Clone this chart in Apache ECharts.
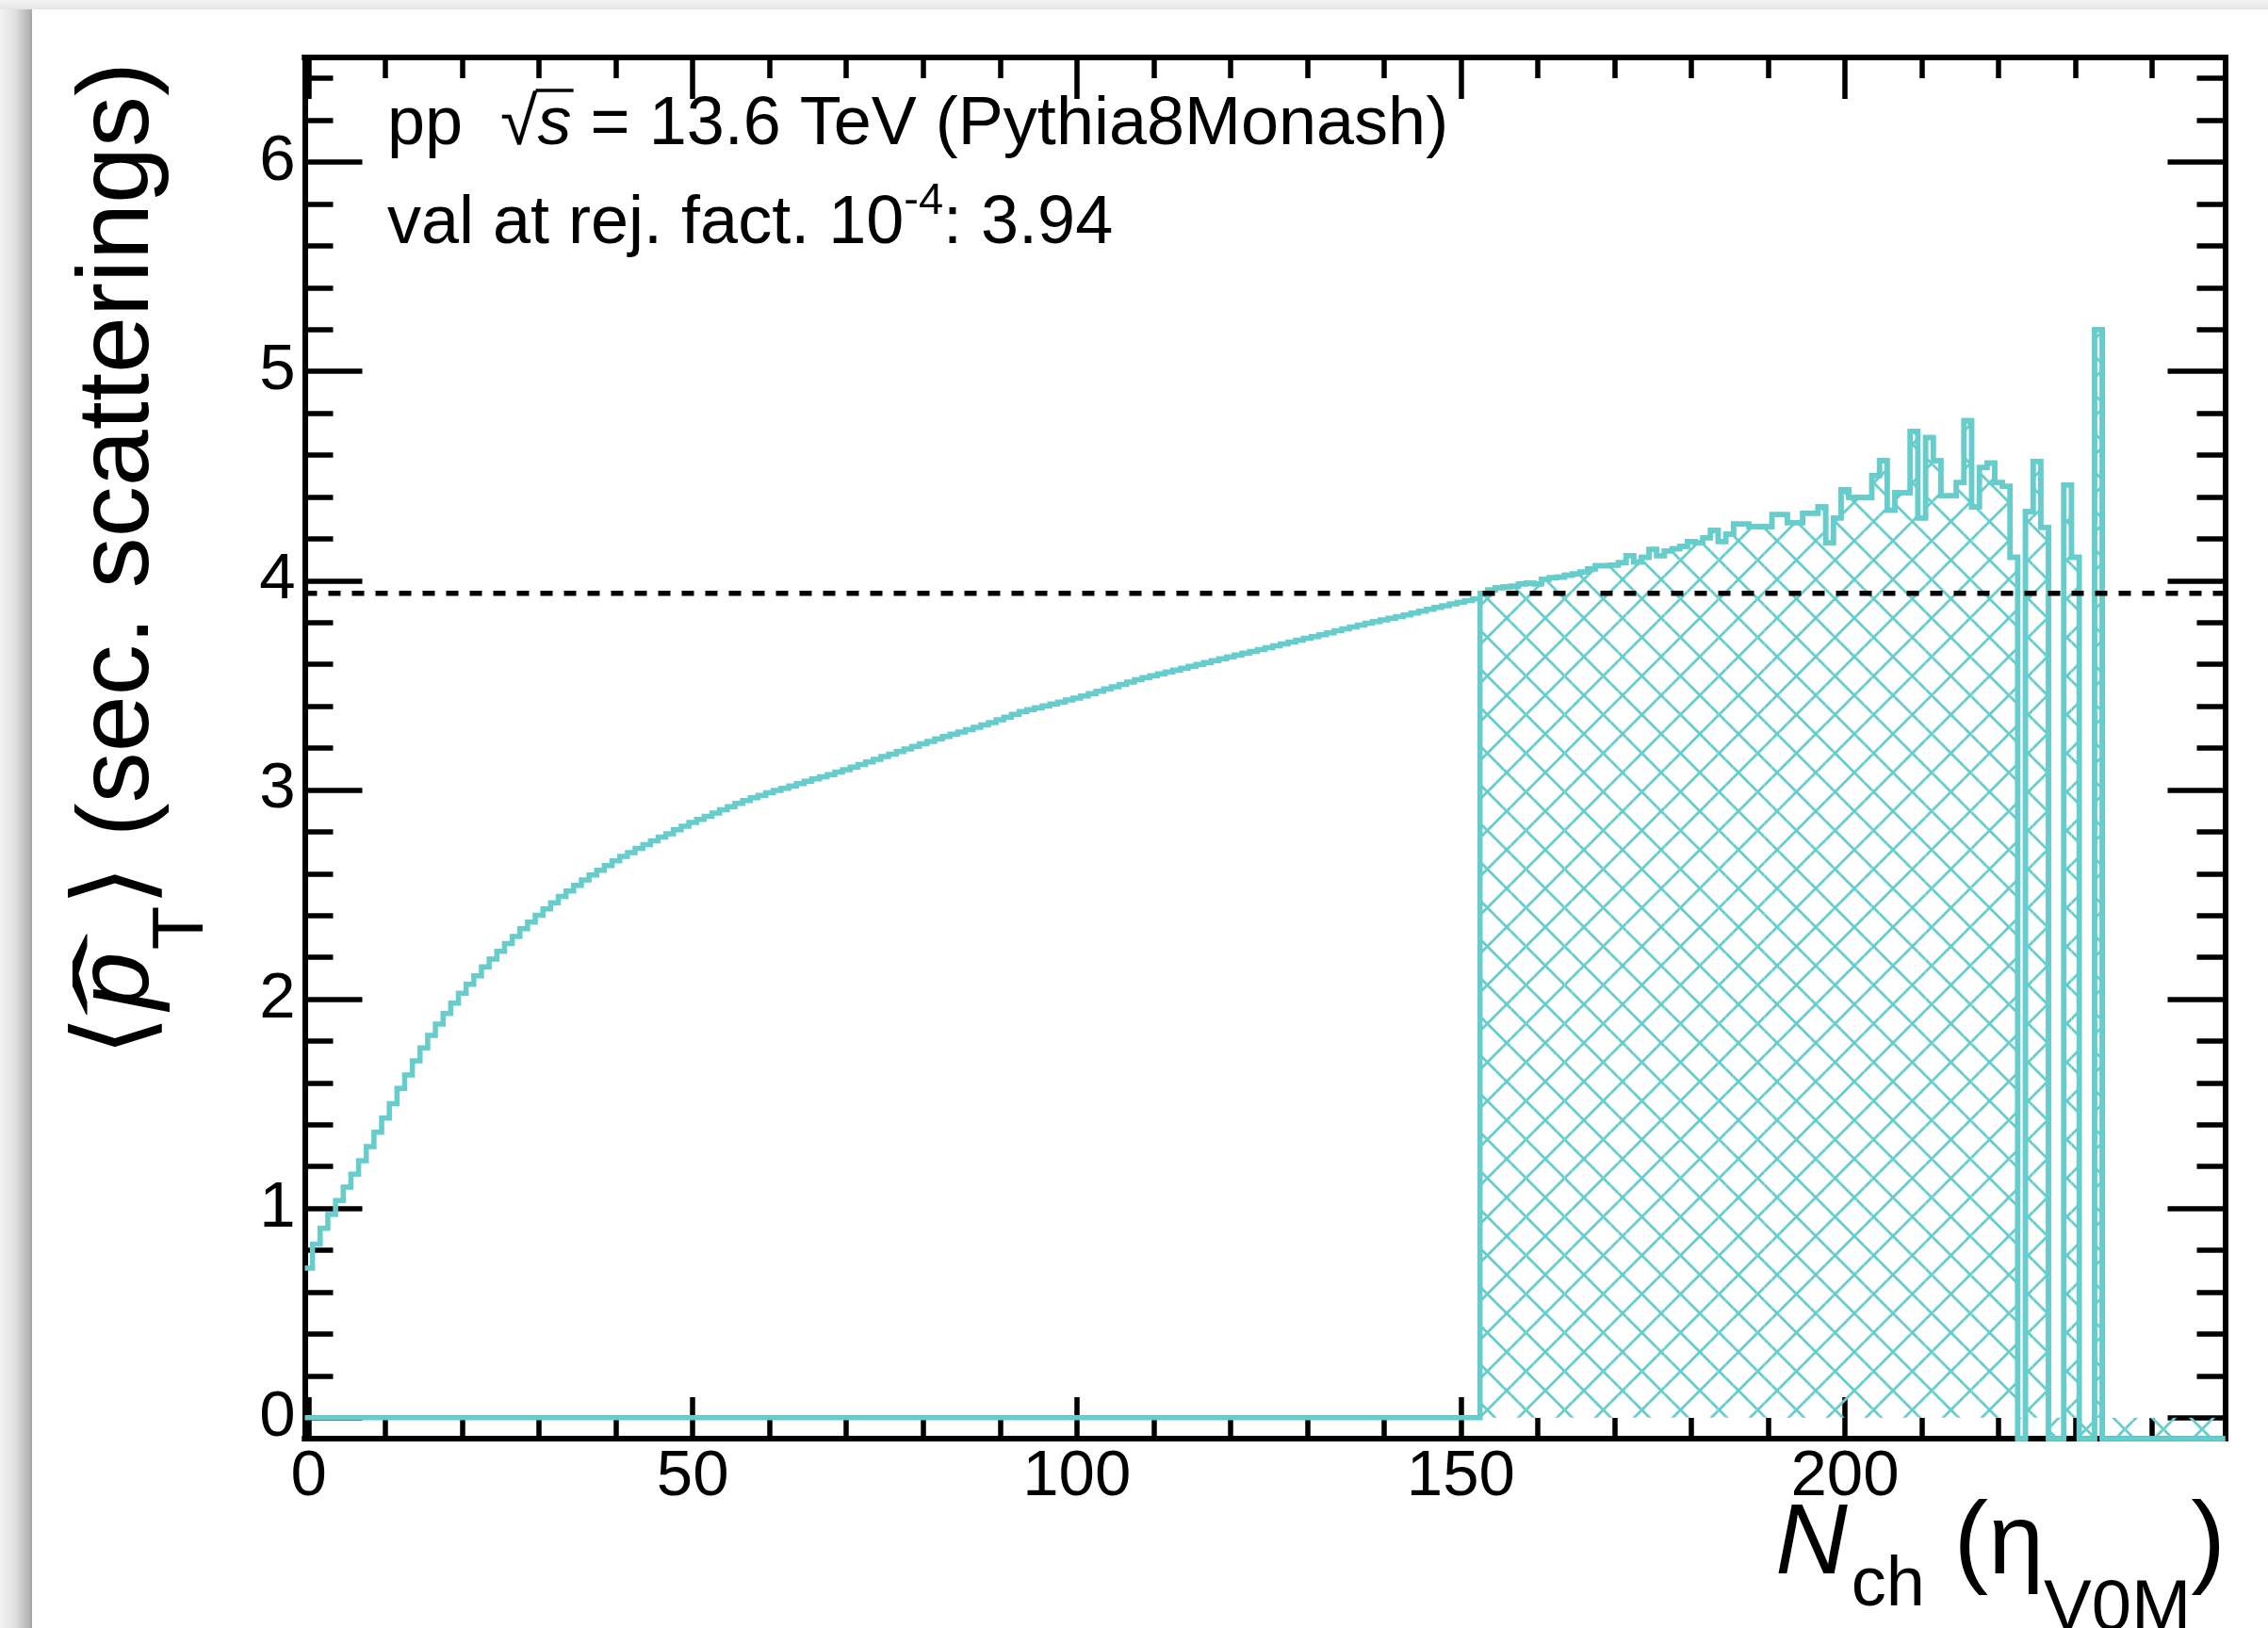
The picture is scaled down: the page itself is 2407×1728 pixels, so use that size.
<!DOCTYPE html>
<html>
<head>
<meta charset="utf-8">
<script src="https://cdn.jsdelivr.net/npm/echarts@6/dist/echarts.min.js"></script>
<style>
  html, body { margin: 0; padding: 0; width: 2407px; height: 1728px; overflow: hidden; background: #fff; }
  #shadeLeft { position: absolute; left: 0; top: 0; width: 34px; height: 1728px;
    background: linear-gradient(to right, #f3f3f3 0%, #dedede 50%, #b4b4b4 90%, #a4a4a4 100%); }
  #shadeTop { position: absolute; left: 0; top: 0; width: 2407px; height: 10px;
    background: linear-gradient(to bottom, #f4f4f4, #e4e4e4); }
  #chart { position: absolute; left: 0; top: 0; width: 2407px; height: 1728px; }
</style>
</head>
<body>
<div id="shadeLeft"></div>
<div id="shadeTop"></div>
<div id="chart"></div>
<script>
// <p_T-hat> of secondary scatterings vs. charged multiplicity in the V0M acceptance.
// One value per unit-wide N_ch bin (bin i covers i-0.5 … i+0.5); null = empty bin.
const meanPtHat = [
  0.715, 0.830, 0.905, 0.972, 1.038, 1.102, 1.164, 1.228, 1.296, 1.364,   //   0
  1.432, 1.500, 1.574, 1.638, 1.705, 1.767, 1.827, 1.881, 1.932, 1.981,   //  10
  2.028, 2.071, 2.112, 2.154, 2.191, 2.229, 2.266, 2.300, 2.337, 2.368,   //  20
  2.401, 2.431, 2.461, 2.491, 2.517, 2.544, 2.570, 2.593, 2.616, 2.638,   //  30
  2.661, 2.682, 2.700, 2.720, 2.738, 2.756, 2.775, 2.790, 2.810, 2.826,   //  40
  2.844, 2.859, 2.874, 2.889, 2.905, 2.920, 2.935, 2.949, 2.962, 2.974,   //  50
  2.986, 2.997, 3.008, 3.019, 3.030, 3.041, 3.052, 3.063, 3.073, 3.085,   //  60
  3.097, 3.109, 3.121, 3.134, 3.146, 3.159, 3.171, 3.183, 3.195, 3.208,   //  70
  3.220, 3.232, 3.244, 3.255, 3.266, 3.277, 3.288, 3.299, 3.310, 3.322,   //  80
  3.335, 3.348, 3.361, 3.374, 3.384, 3.393, 3.402, 3.411, 3.420, 3.430,   //  90
  3.439, 3.449, 3.460, 3.471, 3.482, 3.493, 3.504, 3.515, 3.526, 3.537,   // 100
  3.546, 3.555, 3.564, 3.573, 3.582, 3.591, 3.600, 3.609, 3.618, 3.627,   // 110
  3.636, 3.645, 3.654, 3.662, 3.671, 3.680, 3.689, 3.697, 3.706, 3.715,   // 120
  3.724, 3.732, 3.741, 3.750, 3.760, 3.770, 3.779, 3.788, 3.796, 3.804,   // 130
  3.812, 3.820, 3.828, 3.836, 3.845, 3.854, 3.863, 3.872, 3.880, 3.889,   // 140
  3.897, 3.905, 3.913, 3.940, 3.955, 3.967, 3.970, 3.973, 3.985, 3.988,   // 150
  3.985, 4.007, 4.014, 4.017, 4.026, 4.032, 4.041, 4.056, 4.071, 4.071,   // 160
  4.074, 4.086, 4.119, 4.089, 4.112, 4.149, 4.119, 4.142, 4.152, 4.164,   // 170
  4.187, 4.180, 4.205, 4.240, 4.187, 4.222, 4.270, 4.270, 4.258, 4.258,   // 180
  4.258, 4.315, 4.315, 4.277, 4.277, 4.322, 4.322, 4.352, 4.180, 4.300,   // 190
  4.435, 4.397, 4.397, 4.397, 4.502, 4.573, 4.337, 4.420, 4.420, 4.713,   // 200
  4.300, 4.683, 4.573, 4.405, 4.405, 4.468, 4.765, 4.352, 4.540, 4.562,   // 210
  4.468, 4.450, 4.112, null,  4.330, 4.570, 4.255, null,  null,  4.457,   // 220
  4.112, null,  null,  5.200, null,  null,  null,  null,  null,  null,    // 230
  null,  null,  null,  null,  null,  null,  null,  null,  null,  null     // 240
];

// Bins at or above this index pass the 1e-4 rejection cut (hatched).
const cutBin = 153;
const cutValue = 3.94;

// Axis ranges and ticks
const xRange = [-0.5, 249.5];
const yRange = [-0.1, 6.5];
const xMajorTicks = [0, 50, 100, 150, 200];
const xMinorTicks = [10, 20, 30, 40, 60, 70, 80, 90, 110, 120, 130, 140, 160, 170, 180, 190, 210, 220, 230, 240];
const yMajorTicks = [0, 1, 2, 3, 4, 5, 6];
const yMinorTicks = [0.2, 0.4, 0.6, 0.8, 1.2, 1.4, 1.6, 1.8, 2.2, 2.4, 2.6, 2.8, 3.2, 3.4, 3.6, 3.8,
                     4.2, 4.4, 4.6, 4.8, 5.2, 5.4, 5.6, 5.8, 6.2, 6.4];

const LINE_COLOR = '#66cccc';
const SANS = '"Liberation Sans", Arial, Helvetica, sans-serif';

const binCentres = meanPtHat.map((_, i) => i);

// Cross-hatch tile used to fill the bins above the cut
function makeHatchTile() {
  const s = 41;
  const c = document.createElement('canvas');
  c.width = s; c.height = s;
  const g = c.getContext('2d');
  g.strokeStyle = LINE_COLOR;
  g.lineWidth = 2.8;
  for (const o of [-s, 0, s]) {
    g.beginPath(); g.moveTo(o, 0); g.lineTo(o + s, s); g.stroke();
    g.beginPath(); g.moveTo(o + s, 0); g.lineTo(o, s); g.stroke();
  }
  return c;
}
const hatchFill = { image: makeHatchTile(), repeat: 'repeat' };

// Values as drawn: empty bins sit on the frame floor
const plainValue = b => (meanPtHat[b] == null ? yRange[0] : meanPtHat[b]);
const cutValueOf = b => (b < cutBin ? 0 : plainValue(b));

function stepPoints(api, valueOf) {
  const pts = [];
  for (let b = 0; b < meanPtHat.length; b++) {
    const y = valueOf(b);
    pts.push(api.coord([b - 0.5, y]), api.coord([b + 0.5, y]));
  }
  return pts;
}

// ---------- text layout helpers (runs of text with sub/superscripts) ----------
const mctx = document.createElement('canvas').getContext('2d');
function fontOf(r) { return (r.italic ? 'italic ' : '') + r.size + 'px ' + (r.family || SANS); }
function middleToBaseline(font) {
  mctx.font = font;
  mctx.textBaseline = 'alphabetic';
  const a = mctx.measureText('Hg').fontBoundingBoxAscent;
  mctx.textBaseline = 'middle';
  const m = mctx.measureText('Hg').fontBoundingBoxAscent;
  mctx.textBaseline = 'alphabetic';
  return a - m;
}
function layoutRuns(runs) {
  let x = 0, prevX = 0, prevW = 0;
  const children = [];
  for (const r of runs) {
    const font = fontOf(r);
    mctx.font = font;
    const w = mctx.measureText(r.text).width;
    const d = middleToBaseline(font);
    let tx;
    if (r.over) { tx = prevX + (prevW - w * (r.sx || 1)) / 2 + (r.dx || 0); }
    else { tx = x + (r.dx || 0); }
    const el = {
      type: 'text', x: tx, y: (r.dy || 0) - d,
      style: { text: r.text, font: font, fill: '#000', align: 'left', verticalAlign: 'middle' }
    };
    if (r.sx || r.sy) { el.scaleX = r.sx || 1; el.scaleY = r.sy || 1; el.originX = 0; el.originY = d; }
    children.push(el);
    if (r.bar) {
      children.push({ type: 'line', shape: { x1: tx - 2, y1: r.bar, x2: tx + w + 2, y2: r.bar },
                      style: { stroke: '#000', lineWidth: 3.5 } });
    }
    if (!r.over) { prevX = tx; prevW = w; x = tx + w; }
  }
  return { children, width: x };
}

// Header lines
const header1 = layoutRuns([
  { text: 'pp  ', size: 72 },
  { text: '\u221A', size: 72 },
  { text: 's', size: 72, italic: true, bar: -57 },
  { text: ' = 13.6 TeV (Pythia8Monash)', size: 72 }
]);
const header2 = layoutRuns([
  { text: 'val at rej. fact. 10', size: 72 },
  { text: '-4', size: 47, dy: -31 },
  { text: ': 3.94', size: 72 }
]);

// Axis titles
const xTitle = layoutRuns([
  { text: 'N', size: 106, italic: true },
  { text: 'ch', size: 74, dy: 34, dx: 4 },
  { text: ' (', size: 110 },
  { text: '\u03B7', size: 106 },
  { text: 'V0M', size: 76, dy: 60 },
  { text: ')', size: 110 }
]);
const yTitle = layoutRuns([
  { text: '\u27E8', size: 112, family: '"DejaVu Sans", sans-serif' },
  { text: 'p', size: 110, italic: true, dx: 6 },
  { text: '\u02C6', size: 110, over: true, sx: 2.4, dx: 8 },
  { text: 'T', size: 76, dy: 58, dx: 2 },
  { text: '\u27E9', size: 112, family: '"DejaVu Sans", sans-serif' },
  { text: ' (sec. scatterings)', size: 108 }
]);

// ---------- axes ----------
function xAxisOf(position, ticks, len, labels) {
  return {
    type: 'value', gridIndex: 0, position: position, min: xRange[0], max: xRange[1],
    axisLine: { show: true, onZero: false, lineStyle: { color: '#000', width: 6, cap: 'square' } },
    axisTick: { show: true, inside: true, length: len, customValues: ticks,
                lineStyle: { color: '#000', width: 5.5 } },
    axisLabel: labels
      ? { show: true, customValues: ticks, margin: 6, color: '#000', fontSize: 69, fontFamily: SANS,
          formatter: v => String(v) }
      : { show: false },
    splitLine: { show: false }
  };
}
function yAxisOf(position, ticks, len, labels) {
  return {
    type: 'value', gridIndex: 0, position: position, min: yRange[0], max: yRange[1],
    axisLine: { show: true, onZero: false, lineStyle: { color: '#000', width: 6, cap: 'square' } },
    axisTick: { show: true, inside: true, length: len, customValues: ticks,
                lineStyle: { color: '#000', width: 5.5 } },
    axisLabel: labels
      ? { show: true, customValues: ticks, margin: 10, color: '#000', fontSize: 69, fontFamily: SANS,
          formatter: v => String(v) }
      : { show: false },
    splitLine: { show: false }
  };
}

const chart = echarts.init(document.getElementById('chart'), null, { renderer: 'canvas' });

chart.setOption({
  animation: false,
  backgroundColor: 'transparent',
  grid: { left: 323.5, right: 2407 - 2361.5, top: 61, bottom: 1728 - 1527, containLabel: false },
  xAxis: [
    xAxisOf('bottom', xMajorTicks, 44, true),
    xAxisOf('bottom', xMinorTicks, 22, false),
    xAxisOf('top', xMajorTicks, 44, false),
    xAxisOf('top', xMinorTicks, 22, false)
  ],
  yAxis: [
    yAxisOf('left', yMajorTicks, 61, true),
    yAxisOf('left', yMinorTicks, 30, false),
    yAxisOf('right', yMajorTicks, 61, false),
    yAxisOf('right', yMinorTicks, 30, false)
  ],
  series: [
    {
      // hatched fill of the bins passing the cut
      name: 'above cut fill', type: 'custom', xAxisIndex: 0, yAxisIndex: 0, clip: false, z: 2,
      data: binCentres.map(c => [c]),
      renderItem(params, api) {
        const b = params.dataIndex;
        if (b < cutBin) return null;
        const top = plainValue(b);
        const p0 = api.coord([b - 0.5, 0]);
        const p1 = api.coord([b + 0.5, top]);
        return {
          type: 'rect', silent: true,
          shape: { x: p0[0], y: Math.min(p0[1], p1[1]), width: p1[0] - p0[0], height: Math.abs(p1[1] - p0[1]) },
          style: { fill: hatchFill }
        };
      }
    },
    {
      // outline of the hatched histogram (zero below the cut)
      name: 'above cut', type: 'custom', xAxisIndex: 0, yAxisIndex: 0, clip: false, z: 3,
      data: [[0]],
      renderItem(params, api) {
        return {
          type: 'polyline', silent: true,
          shape: { points: stepPoints(api, cutValueOf) },
          style: { stroke: LINE_COLOR, lineWidth: 5.5, fill: null, lineJoin: 'miter' }
        };
      }
    },
    {
      // full profile
      name: 'all events', type: 'custom', xAxisIndex: 0, yAxisIndex: 0, clip: false, z: 4,
      data: [[0]],
      renderItem(params, api) {
        return {
          type: 'polyline', silent: true,
          shape: { points: stepPoints(api, plainValue) },
          style: { stroke: LINE_COLOR, lineWidth: 5.5, fill: null, lineJoin: 'miter' }
        };
      }
    },
    {
      // value at the rejection cut
      name: 'cut value', type: 'line', xAxisIndex: 0, yAxisIndex: 0, z: 5, silent: true,
      symbol: 'none',
      data: [[xRange[0], cutValue], [xRange[1], cutValue]],
      lineStyle: { color: '#000', width: 5.5, type: [13, 12] }
    }
  ],
  graphic: [
    { type: 'group', x: 411, y: 153, children: header1.children },
    { type: 'group', x: 411, y: 258, children: header2.children },
    { type: 'group', x: 2362 - xTitle.width, y: 1670, children: xTitle.children },
    { type: 'group', x: 157, y: 66 + yTitle.width, rotation: Math.PI / 2, children: yTitle.children }
  ]
});
</script>
</body>
</html>
